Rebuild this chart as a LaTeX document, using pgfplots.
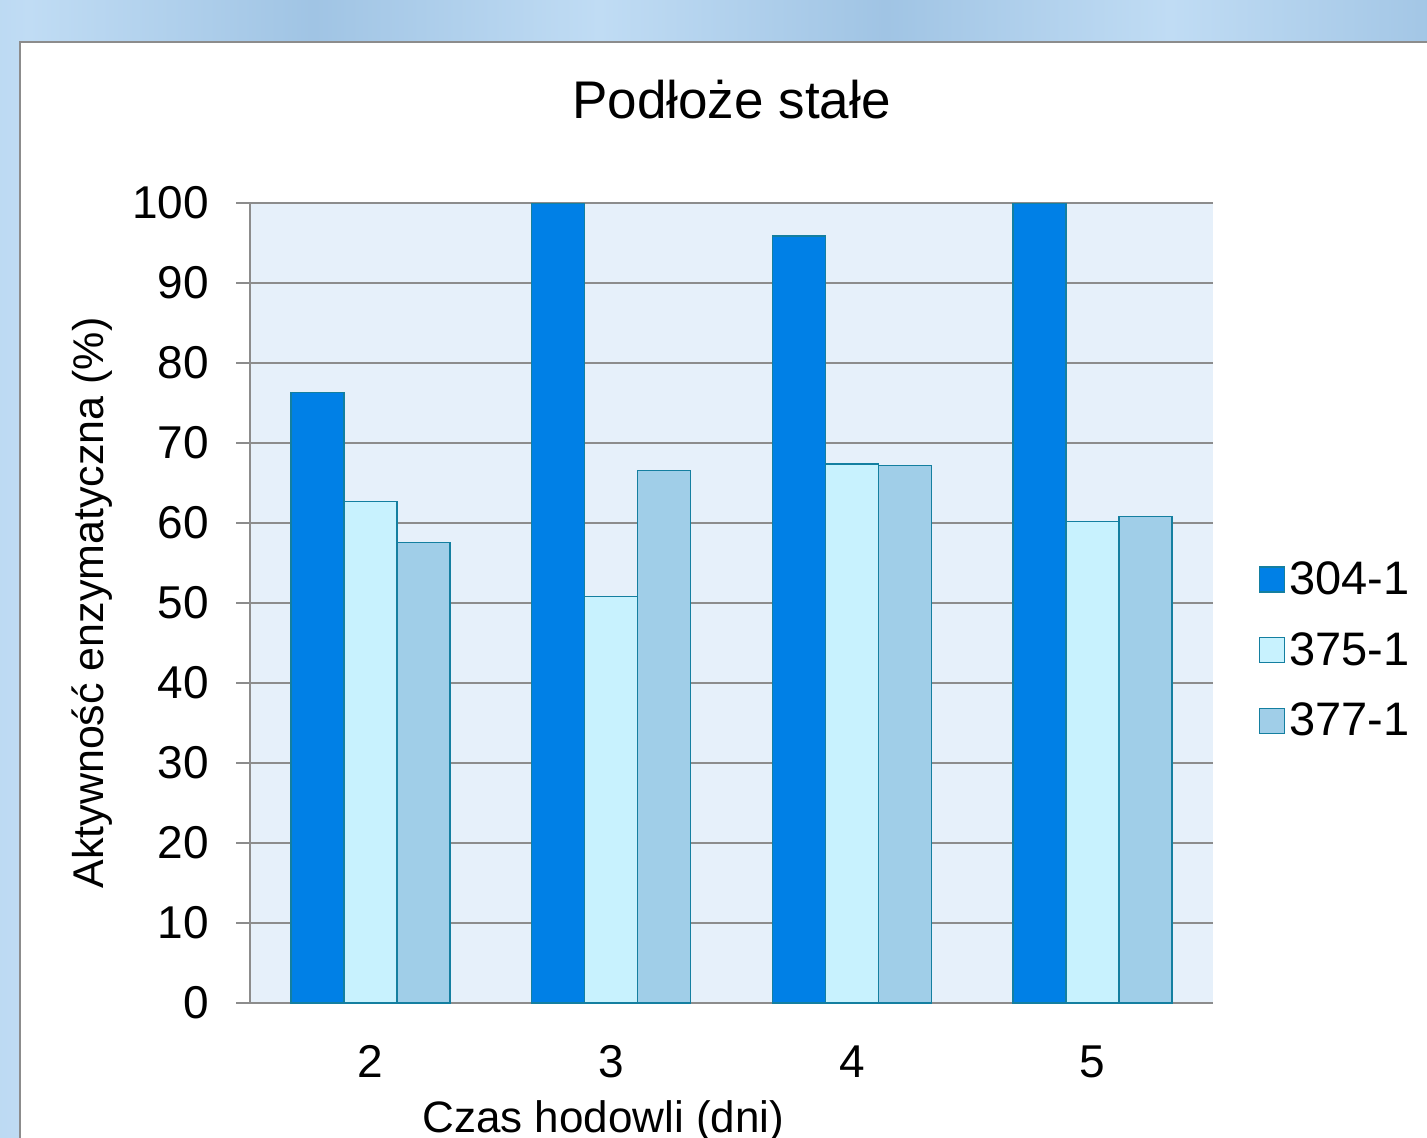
\documentclass[border=0pt]{standalone}
\usepackage{pgfplots}
\pgfplotsset{compat=1.18}
\usepackage{fontspec}
\setmainfont{Liberation Sans}
\definecolor{cA}{RGB}{0,128,230}
\definecolor{cB}{RGB}{200,242,254}
\definecolor{cC}{RGB}{160,206,232}
\definecolor{edge}{RGB}{20,127,160}
\definecolor{plotbg}{RGB}{230,240,250}
\definecolor{gridc}{RGB}{140,140,140}
\definecolor{bgA}{RGB}{160,196,228}
\definecolor{bgB}{RGB}{192,220,244}
\pgfdeclarehorizontalshading{stripes}{100bp}{
 color(0bp)=(bgA); color(8bp)=(bgB); color(16bp)=(bgA); color(26bp)=(bgB);
 color(36bp)=(bgA); color(46bp)=(bgB); color(56bp)=(bgA); color(66bp)=(bgB);
 color(76bp)=(bgA); color(86bp)=(bgB); color(100bp)=(bgA)}
\begin{document}
\begin{tikzpicture}
\clip (0,0) rectangle (713.5pt,568.5pt);
\useasboundingbox (0,0) rectangle (713.5pt,568.5pt);
\shade[shading=stripes] (0,0) rectangle (713.5pt,568.5pt);
\fill[white] (10pt,-5pt) rectangle (720pt,547.5pt);
\draw[gridc, line width=1pt] (10pt,-5pt) -- (10pt,547.5pt) -- (720pt,547.5pt);
\begin{axis}[
  at={(125pt,67pt)}, anchor=south west,
  scale only axis, width=481.5pt, height=400pt,
  ybar=0pt, bar width=26.5pt,
  xmin=1.5, xmax=5.5, ymin=0, ymax=100,
  xtick={2,3,4,5}, ytick={0,10,...,100},
  axis x line=bottom, axis y line=left,
  axis line style={draw=gridc, line width=1pt, -},
  axis background/.style={fill=plotbg},
  ymajorgrids, grid style={draw=gridc, line width=1pt},
  xtick style={draw=none},
  ytick style={draw=gridc, line width=1pt},
  tick align=outside, major tick length=7pt,
  /pgf/number format/assume math mode=true,
  tick label style={font=\fontsize{23}{27}\selectfont},
  xticklabel style={anchor=base, yshift=-30pt},
  yticklabel style={xshift=-10pt},
  title={Podłoże stałe},
  title style={font=\fontsize{26.5}{30}\selectfont, at={(axis description cs:0.5,1)}, anchor=base, yshift=36pt},
  xlabel={Czas hodowli (dni)},
  xlabel style={font=\fontsize{22}{26}\selectfont, at={(axis description cs:0.367,0)}, anchor=base, yshift=-64.5pt},
  ylabel={Aktywność enzymatyczna (\%)},
  ylabel style={font=\fontsize{21.5}{26}\selectfont, at={(axis description cs:-0.164,0.5)}, anchor=center},
  legend style={draw=none, fill=none, at={(axis description cs:1.047,0.441)}, anchor=west,
    font=\fontsize{23.5}{27}\selectfont, row sep=13.5pt, inner sep=0pt,
    nodes={inner xsep=2pt}},
  legend cell align=left,
  legend image code/.code={\draw[#1, line width=0.7pt] (0pt,-6.25pt) rectangle (12.5pt,6.25pt);},
]
\addplot[fill=cA, draw=edge, line width=0.7pt] coordinates {(2,76.3) (3,100) (4,95.9) (5,100)};
\addplot[fill=cB, draw=edge, line width=0.7pt] coordinates {(2,62.7) (3,50.8) (4,67.4) (5,60.2)};
\addplot[fill=cC, draw=edge, line width=0.7pt] coordinates {(2,57.6) (3,66.6) (4,67.2) (5,60.8)};
\legend{304-1,375-1,377-1}
\end{axis}
\end{tikzpicture}
\end{document}
